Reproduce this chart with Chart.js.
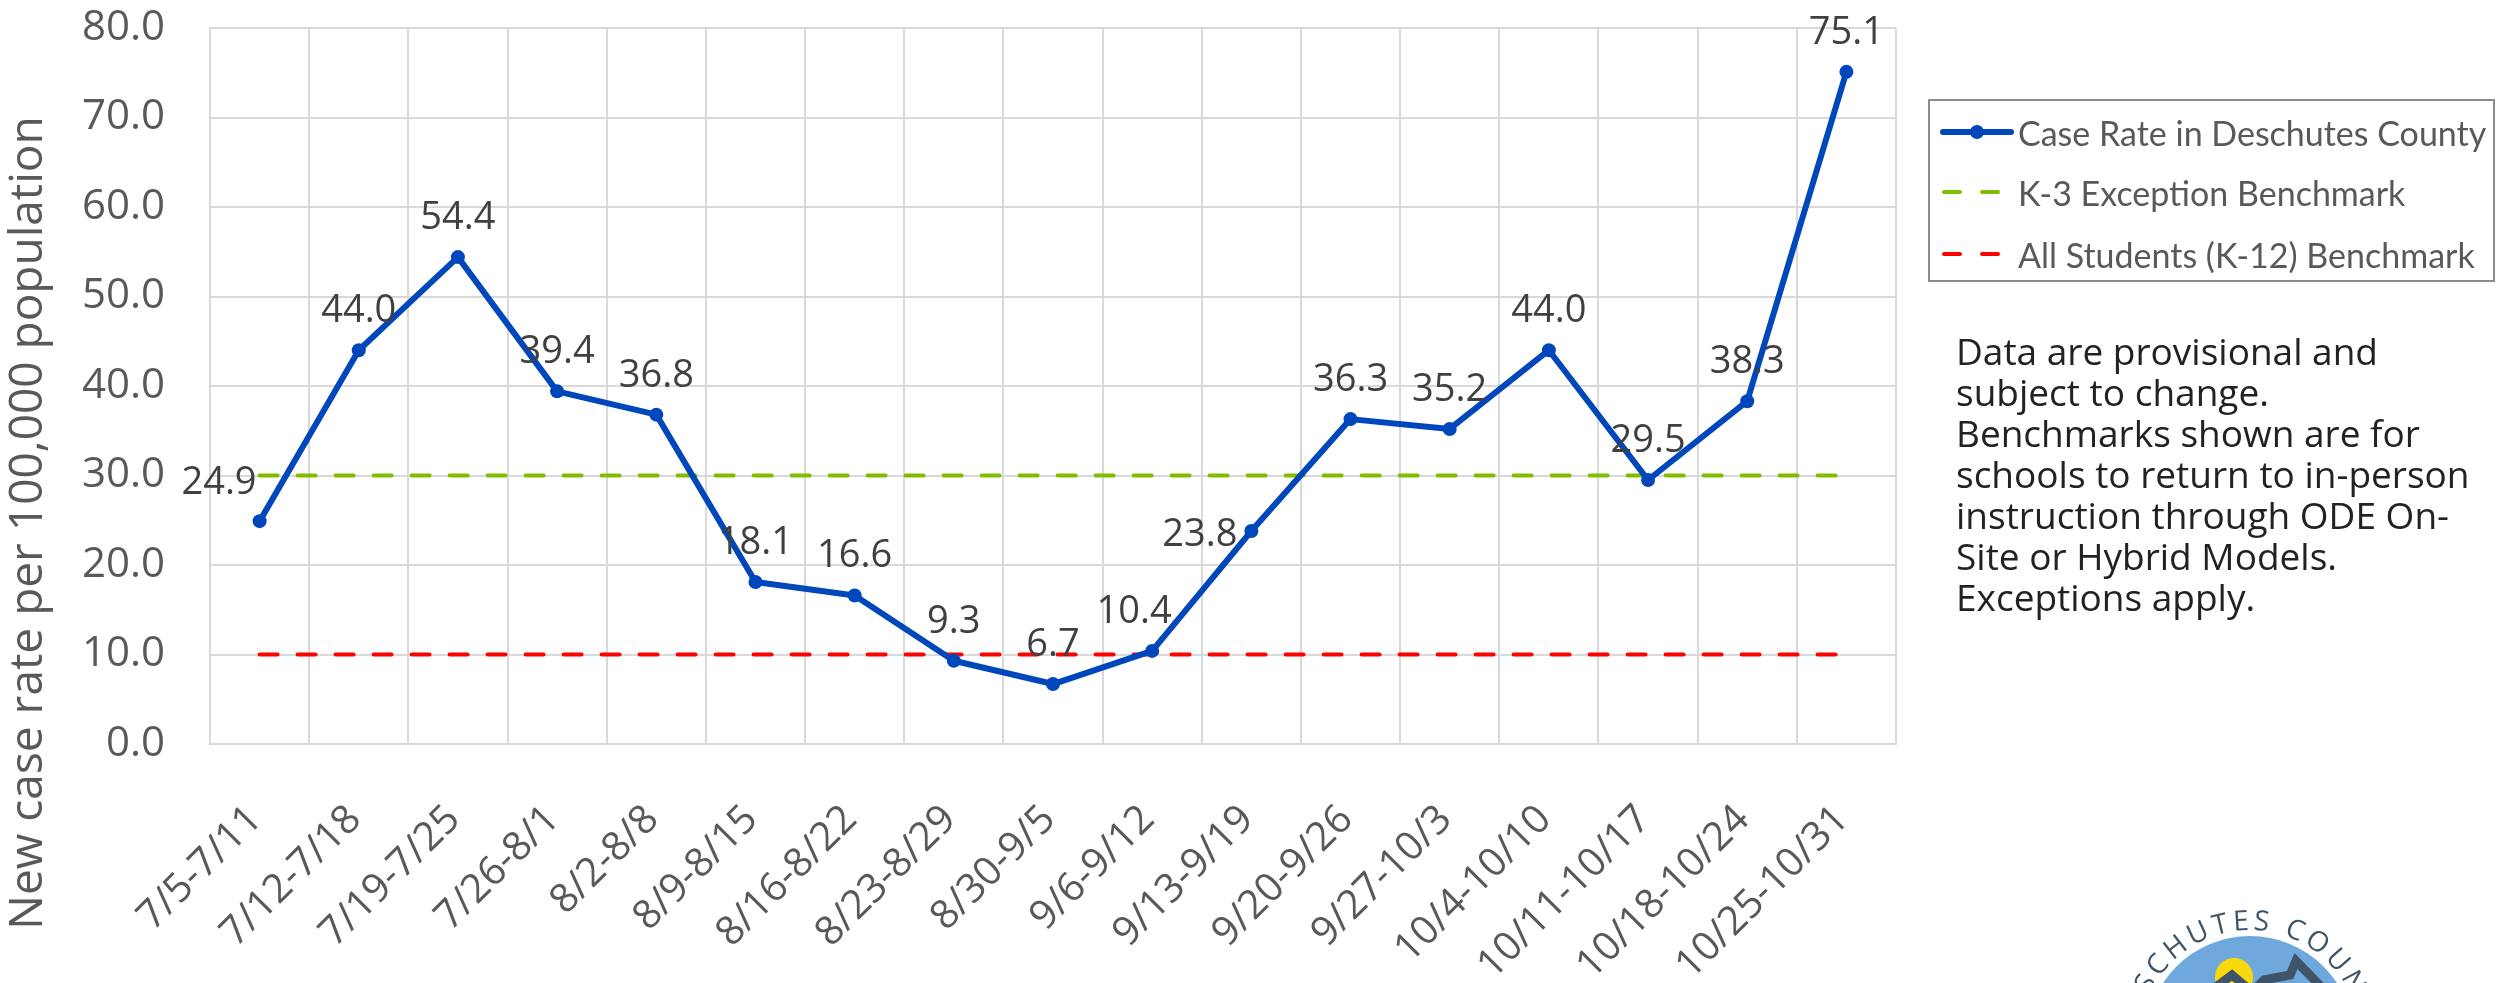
<!DOCTYPE html>
<html>
<head>
<meta charset="utf-8">
<title>Case Rate in Deschutes County</title>
<script src="https://cdn.jsdelivr.net/npm/chart.js@4.4.0/dist/chart.umd.min.js"></script>
<style>
  html, body { margin: 0; padding: 0; background: #fff; overflow: hidden; }
  #wrap { position: relative; width: 2496px; height: 983px; }
  #chartBox { position: absolute; left: 0; top: 0; width: 2496px; height: 983px; }
  .legend { position: absolute; left: 1928px; top: 99px; width: 563px; height: 179px;
            border: 2px solid #8c8c8c; font-family: Lato, sans-serif; font-size: 34px; color: #595959; }
  .legend .row { position: absolute; left: 10px; height: 40px; display: flex; align-items: center; white-space: nowrap; }
  .legend svg { width: 74px; height: 20px; margin-right: 4px; flex: none; }
  .note { position: absolute; left: 1956px; top: 330px; font-family: "Open Sans", sans-serif;
          font-size: 37px; line-height: 41px; color: #222; }
  .logo { position: absolute; left: 0; top: 0; width: 2496px; height: 983px; pointer-events: none; }
</style>
</head>
<body>
<div id="wrap">
  <div id="chartBox"><canvas id="caseChart"></canvas></div>

  <div class="legend">
    <div class="row" style="top:11px">
      <svg viewBox="0 0 74 20"><line x1="3" y1="10" x2="71" y2="10" stroke="#0047BB" stroke-width="6" stroke-linecap="round"/><circle cx="37" cy="10" r="7" fill="#0047BB"/></svg>
      <span>Case Rate in Deschutes County</span>
    </div>
    <div class="row" style="top:71px">
      <svg viewBox="0 0 74 20"><line x1="4" y1="10" x2="70" y2="10" stroke="#82BC00" stroke-width="4" stroke-linecap="round" stroke-dasharray="16 22"/></svg>
      <span>K-3 Exception Benchmark</span>
    </div>
    <div class="row" style="top:133px">
      <svg viewBox="0 0 74 20"><line x1="4" y1="10" x2="70" y2="10" stroke="#FF0000" stroke-width="4" stroke-linecap="round" stroke-dasharray="16 22"/></svg>
      <span>All Students (K-12) Benchmark</span>
    </div>
  </div>

  <div class="note">Data are provisional and<br>subject to change.<br>Benchmarks shown are for<br>schools to return to in-person<br>instruction through ODE On-<br>Site or Hybrid Models.<br>Exceptions apply.</div>

  <svg class="logo" viewBox="0 0 2496 983">
    <defs>
      <path id="logoArc" d="M 2140 1040 A 110 110 0 0 1 2360 1040"/>
    </defs>
    <circle cx="2250" cy="1040" r="104" fill="#6FA8DC"/>
    <circle cx="2234" cy="977" r="19" fill="#F9D80C"/>
    <polyline points="2196,1002 2232,975 2252,992 2264,980 2290,975 2296,961 2338,1004"
              fill="none" stroke="#3F5467" stroke-width="9" stroke-linejoin="miter"/>
    <text font-family="Open Sans, sans-serif" font-size="28" fill="#3F5567" letter-spacing="4">
      <textPath href="#logoArc" startOffset="50%" text-anchor="middle">DESCHUTES COUNTY</textPath>
    </text>
  </svg>
</div>

<script>
// Weekly periods on the x axis
const weeks = [
  '7/5-7/11', '7/12-7/18', '7/19-7/25', '7/26-8/1', '8/2-8/8', '8/9-8/15',
  '8/16-8/22', '8/23-8/29', '8/30-9/5', '9/6-9/12', '9/13-9/19', '9/20-9/26',
  '9/27-10/3', '10/4-10/10', '10/11-10/17', '10/18-10/24', '10/25-10/31'
];

// New cases per 100,000 population
const caseRate = [24.9, 44.0, 54.4, 39.4, 36.8, 18.1, 16.6, 9.3, 6.7, 10.4, 23.8, 36.3, 35.2, 44.0, 29.5, 38.3, 75.1];

// Benchmarks
const k3Benchmark  = [30, 30, 30, 30, 30, 30, 30, 30, 30, 30, 30, 30, 30, 30, 30, 30, 30];
const allBenchmark = [10, 10, 10, 10, 10, 10, 10, 10, 10, 10, 10, 10, 10, 10, 10, 10, 10];

// Y axis tick values
const yTicks = [0, 10, 20, 30, 40, 50, 60, 70, 80];

// where each value label sits relative to its point
const labelPlace = ['above-left', 'above', 'above', 'above', 'above', 'above', 'above', 'above', 'above',
                    'above-nudge', 'left', 'above', 'above', 'above', 'above', 'above', 'above'];

const colors = {
    blue: '#0047BB',
    green: '#82BC00',
    red: '#FF0000',
    grid: '#D9D9D9',
    axisText: '#595959',
    labelText: '#404040'
};

// Draws the value of every point of the case rate line
const valueLabels = {
    id: 'valueLabels',
    afterDatasetsDraw(chart) {
        const ctx = chart.ctx;
        const meta = chart.getDatasetMeta(0);
        ctx.save();
        ctx.font = '38px "Open Sans"';
        ctx.fillStyle = colors.labelText;
        meta.data.forEach((pt, i) => {
            const txt = caseRate[i].toFixed(1);
            const place = labelPlace[i];
            if (place === 'left') {
                ctx.textAlign = 'right';
                ctx.textBaseline = 'middle';
                ctx.fillText(txt, pt.x - 14, pt.y + 4);
            } else if (place === 'above-left') {
                ctx.textAlign = 'right';
                ctx.textBaseline = 'alphabetic';
                ctx.fillText(txt, pt.x - 3, pt.y - 27);
            } else {
                ctx.textAlign = 'center';
                ctx.textBaseline = 'alphabetic';
                ctx.fillText(txt, pt.x + (place === 'above-nudge' ? -18 : 0), pt.y - 28);
            }
        });
        ctx.restore();
    }
};

// Y axis title, centred lower than the plot like the original
const yTitle = {
    id: 'yTitle',
    afterDraw(chart) {
        const ctx = chart.ctx;
        ctx.save();
        ctx.translate(29, 523);
        ctx.rotate(-Math.PI / 2);
        ctx.font = '46px "Open Sans"';
        ctx.fillStyle = colors.axisText;
        ctx.textAlign = 'center';
        ctx.textBaseline = 'middle';
        ctx.fillText('New case rate per 100,000 population', 0, 0);
        ctx.restore();
    }
};

function initCaseChart() {
    const ctx = document.getElementById('caseChart');
    if (!ctx) return;

    new Chart(ctx, {
        type: 'line',
        data: {
            labels: weeks,
            datasets: [
                {
                    label: 'Case Rate in Deschutes County',
                    data: caseRate,
                    borderColor: colors.blue,
                    backgroundColor: colors.blue,
                    borderWidth: 6,
                    borderJoinStyle: 'round',
                    pointRadius: 7,
                    pointHoverRadius: 7,
                    pointBackgroundColor: colors.blue,
                    pointBorderWidth: 0,
                    tension: 0
                },
                {
                    label: 'K-3 Exception Benchmark',
                    data: k3Benchmark,
                    borderColor: colors.green,
                    borderWidth: 4,
                    borderDash: [18, 20],
                    borderCapStyle: 'round',
                    pointRadius: 0,
                    pointHoverRadius: 0
                },
                {
                    label: 'All Students (K-12) Benchmark',
                    data: allBenchmark,
                    borderColor: colors.red,
                    borderWidth: 4,
                    borderDash: [18, 20],
                    borderCapStyle: 'round',
                    pointRadius: 0,
                    pointHoverRadius: 0
                }
            ]
        },
        options: {
            responsive: true,
            maintainAspectRatio: false,
            animation: false,
            devicePixelRatio: 1,
            layout: {
                padding: { top: 28, right: 600, bottom: 0, left: 0 }
            },
            plugins: {
                legend: { display: false },
                tooltip: { enabled: false }
            },
            scales: {
                x: {
                    offset: true,
                    grid: {
                        offset: true,
                        color: colors.grid,
                        lineWidth: 2,
                        drawTicks: false
                    },
                    border: { color: colors.grid, width: 2 },
                    ticks: {
                        autoSkip: false,
                        minRotation: 45,
                        maxRotation: 45,
                        padding: 52,
                        labelOffset: -4,
                        color: colors.axisText,
                        font: { family: 'Open Sans', size: 40 }
                    },
                    afterFit(scale) { scale.height = 239; }
                },
                y: {
                    min: 0,
                    max: 80,
                    afterBuildTicks(scale) {
                        scale.ticks = yTicks.map(v => ({ value: v }));
                    },
                    grid: {
                        color: colors.grid,
                        lineWidth: 2,
                        drawTicks: false
                    },
                    border: { color: colors.grid, width: 2 },
                    ticks: {
                        padding: 45,
                        color: colors.axisText,
                        font: { family: 'Open Sans', size: 42 },
                        callback: v => Number(v).toFixed(1)
                    },
                    afterFit(scale) {
                        // fixed axis width; the tick padding should not push the plot down
                        scale.width = 210;
                        scale.paddingTop = 0;
                        scale.paddingBottom = 0;
                    }
                }
            }
        },
        plugins: [valueLabels, yTitle]
    });
}

initCaseChart();
</script>
</body>
</html>
